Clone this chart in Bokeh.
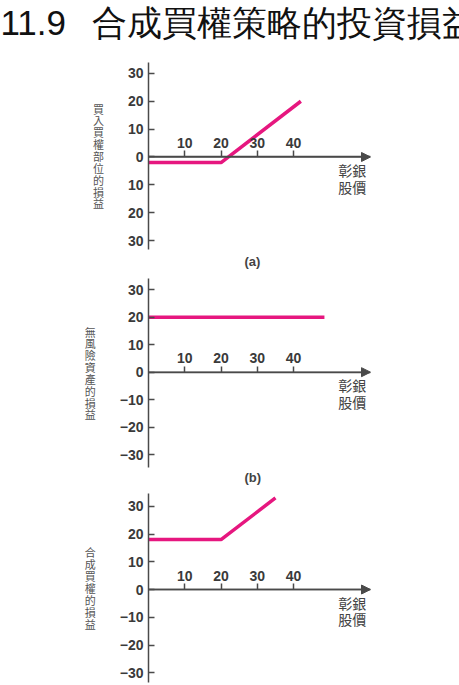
from bokeh.plotting import figure
from bokeh.layouts import column
from bokeh.models import Range1d, FixedTicker, Label, Arrow, NormalHead, Title
from bokeh.embed import file_html
from bokeh.resources import INLINE

# ---------------- data ----------------
title_num = "11.9"
title_text = "合成買權策略的投資損益"

x_ticks = [10, 20, 30, 40]
y_ticks = [-30, -20, -10, 0, 10, 20, 30]
y_labels_a = ["30", "20", "10", "0", "10", "20", "30"]
y_labels_bc = ["\u221230", "\u221220", "\u221210", "0", "10", "20", "30"]

price_a = [0, 20, 42]
payoff_a = [-2, -2, 20]
price_b = [0, 48.5]
payoff_b = [20, 20]
price_c = [0, 20, 35]
payoff_c = [18, 18, 33]

ylabel_a = "買入買權部位的損益"
ylabel_b = "無風險資產的損益"
ylabel_c = "合成買權的損益"
xlabel = "彰銀\n股價"
tags = ["(a)", "(b)", None]

# ---------------- style ----------------
W = 459
LEFT = 148
FRAME_W = 222
XMAX = 61.2
AX = "#4a4a4a"
LINE = "#E6177F"
CJK = "Noto Sans CJK TC"
LAT = "Liberation Sans"


def panel(h, top, fh, yr, xs, ys, ylabel, ylabels, tag, tag_standoff):
    p = figure(width=W, height=h, x_range=Range1d(0, XMAX), y_range=Range1d(*yr),
               x_axis_location="above", output_backend="svg", toolbar_location=None,
               min_border_left=LEFT, min_border_right=W - LEFT - FRAME_W,
               min_border_top=top, min_border_bottom=h - top - fh)
    p.grid.visible = False
    p.outline_line_color = None
    p.background_fill_color = "white"
    p.border_fill_color = "white"

    xa = p.xaxis[0]
    xa.fixed_location = 0
    xa.ticker = FixedTicker(ticks=x_ticks)
    xa.major_tick_out = 6
    xa.major_tick_in = 0
    xa.minor_tick_out = 0
    xa.minor_tick_in = 0
    xa.axis_line_color = AX
    xa.axis_line_width = 1.5
    xa.major_tick_line_color = AX
    xa.major_tick_line_width = 1.5
    xa.major_label_standoff = 3
    xa.major_label_text_font = LAT
    xa.major_label_text_font_size = "14px"
    xa.major_label_text_font_style = "bold"
    xa.major_label_text_color = "#3a3a3a"

    ya = p.yaxis[0]
    ya.ticker = FixedTicker(ticks=y_ticks)
    ya.major_label_overrides = dict(zip(y_ticks, ylabels))
    ya.major_tick_in = 6
    ya.major_tick_out = 0
    ya.minor_tick_out = 0
    ya.minor_tick_in = 0
    ya.axis_line_color = AX
    ya.axis_line_width = 1.5
    ya.major_tick_line_color = AX
    ya.major_tick_line_width = 1.5
    ya.major_label_standoff = 5
    ya.major_label_text_font = LAT
    ya.major_label_text_font_size = "14px"
    ya.major_label_text_font_style = "bold"
    ya.major_label_text_color = "#3a3a3a"
    ya.axis_label = "\n".join(ylabel)
    ya.axis_label_orientation = "horizontal"
    ya.axis_label_text_font = CJK
    ya.axis_label_text_font_style = "normal"
    ya.axis_label_text_font_size = "11px"
    ya.axis_label_text_line_height = 0.74
    ya.axis_label_text_color = "#555555"
    ya.axis_label_standoff = 21

    p.add_layout(Arrow(end=NormalHead(size=9, fill_color=AX, line_color=AX),
                       x_start=0, y_start=0, x_end=XMAX, y_end=0,
                       line_color=AX, line_width=1.5))

    p.line(xs, ys, line_color=LINE, line_width=3.5)

    p.add_layout(Label(x=52.3, y=-1.2, text=xlabel, text_align="left",
                       text_baseline="top", text_font=CJK, text_font_size="14px",
                       text_color="#444444", text_line_height=0.82))
    if tag:
        p.add_layout(Title(text=tag, align="left", offset=96, standoff=tag_standoff,
                           text_font=LAT, text_font_size="13px", text_font_style="bold",
                           text_color="#444444"), "below")
    return p


pa = panel(270, 62, 188, (-33.2, 33.9), price_a, payoff_a, ylabel_a, y_labels_a, tags[0], 4)
# blank spacer between the frame and the title, pushing the title up
pa.add_layout(Title(text=" ", align="left", standoff=1, text_font=LAT,
                    text_font_size="14px", text_color="white"), "above")
pa.add_layout(Title(text=title_num + "\u2002\u2005" + title_text, align="left",
                    offset=-148, standoff=0, vertical_align="top",
                    text_font=LAT, text_font_size="35px",
                    text_font_style="normal", text_color="#111111"), "above")
pb = panel(215, 8, 189, (-34.7, 34.1), price_b, payoff_b, ylabel_b, y_labels_bc, tags[1], 1)
pc = panel(200, 8, 189, (-33.5, 34.6), price_c, payoff_c, ylabel_c, y_labels_bc, tags[2], 0)

layout = column(pa, pb, pc, spacing=0)
open("out.html", "w").write(file_html(layout, INLINE))
